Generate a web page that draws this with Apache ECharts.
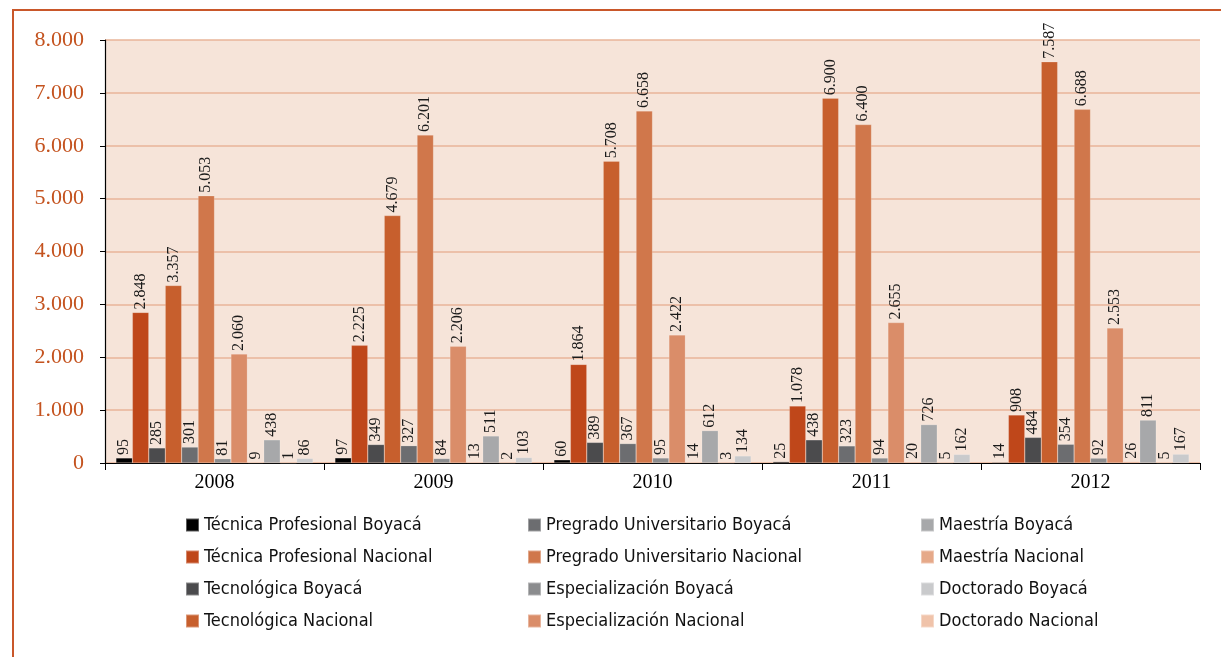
<!DOCTYPE html>
<html>
<head>
<meta charset="utf-8">
<script src="https://cdn.jsdelivr.net/npm/echarts@6/dist/echarts.min.js"></script>
<style>
  html, body { margin: 0; padding: 0; background: #fff; }
  #frame { position: absolute; left: 12px; top: 9px; width: 1220px; height: 660px;
           border-left: 2px solid #c9572a; border-top: 2px solid #c9572a; }
  #chart { position: absolute; left: 0; top: 0; width: 1221px; height: 657px; }
</style>
</head>
<body>
<div id="frame"></div>
<div id="chart"></div>
<script>
// años
const years = ['2008', '2009', '2010', '2011', '2012']
const yTicks = [0, 1000, 2000, 3000, 4000, 5000, 6000, 7000, 8000]

// valores por serie
const tecProfBoyaca = [95, 97, 60, 25, 14]
const tecProfNacional = [2848, 2225, 1864, 1078, 908]
const tecnologicaBoyaca = [285, 349, 389, 438, 484]
const tecnologicaNacional = [3357, 4679, 5708, 6900, 7587]
const pregradoBoyaca = [301, 327, 367, 323, 354]
const pregradoNacional = [5053, 6201, 6658, 6400, 6688]
const especBoyaca = [81, 84, 95, 94, 92]
const especNacional = [2060, 2206, 2422, 2655, 2553]
const maestriaNacional = [9, 13, 14, 20, 26]
const maestriaBoyaca = [438, 511, 612, 726, 811]
const doctoradoNacional = [1, 2, 3, 5, 5]
const doctoradoBoyaca = [86, 103, 134, 162, 167]

// orden de las barras dentro de cada año
const seriesDefs = [
  ['Técnica Profesional Boyacá', tecProfBoyaca, '#000000'],
  ['Técnica Profesional Nacional', tecProfNacional, '#bf471a'],
  ['Tecnológica Boyacá', tecnologicaBoyaca, '#4b4b4d'],
  ['Tecnológica Nacional', tecnologicaNacional, '#c75f2d'],
  ['Pregrado Universitario Boyacá', pregradoBoyaca, '#6c6d70'],
  ['Pregrado Universitario Nacional', pregradoNacional, '#d0774b'],
  ['Especialización Boyacá', especBoyaca, '#8b8c8e'],
  ['Especialización Nacional', especNacional, '#da8d69'],
  ['Maestría Nacional', maestriaNacional, '#e6a989'],
  ['Maestría Boyacá', maestriaBoyaca, '#a7a8aa'],
  ['Doctorado Nacional', doctoradoNacional, '#f0c3aa'],
  ['Doctorado Boyacá', doctoradoBoyaca, '#c9cacc']
]

// columnas de la leyenda
const legendCols = [
  ['Técnica Profesional Boyacá', 'Técnica Profesional Nacional', 'Tecnológica Boyacá', 'Tecnológica Nacional'],
  ['Pregrado Universitario Boyacá', 'Pregrado Universitario Nacional', 'Especialización Boyacá', 'Especialización Nacional'],
  ['Maestría Boyacá', 'Maestría Nacional', 'Doctorado Boyacá', 'Doctorado Nacional']
]
const legendLeft = [185, 527, 920]

const fmt = v => String(v).replace(/\B(?=(\d{3})+(?!\d))/g, '.')

const chart = echarts.init(document.getElementById('chart'), null, { renderer: 'canvas' })

const option = {
  animation: false,
  grid: {
    left: 105, right: 21, top: 40, bottom: 194,
    show: true, backgroundColor: '#f6e4d9', borderWidth: 0
  },
  legend: legendCols.map((col, i) => ({
    data: col,
    orient: 'vertical',
    left: legendLeft[i],
    top: 516,
    padding: 0,
    itemWidth: 13,
    itemHeight: 13,
    itemGap: 14,
    icon: 'rect',
    textStyle: { fontFamily: '"DejaVu Sans Condensed", Roboto', fontSize: 18, color: '#111' }
  })),
  xAxis: {
    type: 'category',
    data: years,
    axisLine: { lineStyle: { color: '#000', width: 1.2 } },
    axisTick: { show: true, length: 7, lineStyle: { color: '#000' } },
    axisLabel: { fontFamily: 'Liberation Serif', fontSize: 20, color: '#000', margin: 10 },
    splitLine: { show: false }
  },
  yAxis: {
    type: 'value',
    min: yTicks[0],
    max: yTicks[yTicks.length - 1],
    interval: 1000,
    axisLine: { show: true, lineStyle: { color: '#000', width: 1.2 } },
    axisTick: { show: true, length: 5, lineStyle: { color: '#000' } },
    axisLabel: { fontFamily: 'Liberation Serif', fontSize: 22, color: '#c4531f', margin: 21, formatter: fmt },
    splitLine: { lineStyle: { color: '#e8b498', width: 1.5 } }
  },
  series: seriesDefs.map(([name, data, color]) => ({
    name,
    type: 'bar',
    data,
    barGap: '0%',
    barCategoryGap: '10%',
    itemStyle: { color, borderColor: 'rgba(255,255,255,0.35)', borderWidth: 0.5 },
    label: {
      show: true,
      position: 'top',
      rotate: 90,
      align: 'left',
      verticalAlign: 'middle',
      distance: 3,
      fontFamily: 'Liberation Serif',
      fontSize: 16,
      color: '#1a1a1a',
      formatter: p => fmt(p.value)
    }
  }))
}

chart.setOption(option)
</script>
</body>
</html>
